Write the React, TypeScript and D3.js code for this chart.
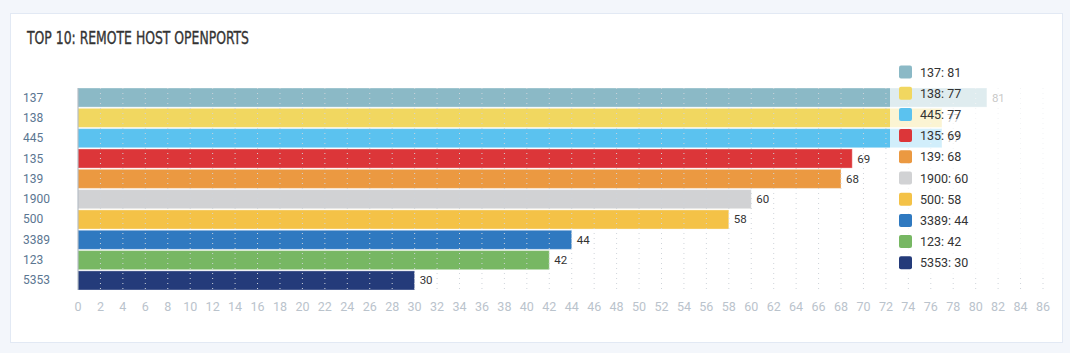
import React from 'react'
import * as d3 from 'd3'

// ports and open counts, top 10
const ports = ['137', '138', '445', '135', '139', '1900', '500', '3389', '123', '5353']
const counts = [81, 77, 77, 69, 68, 60, 58, 44, 42, 30]
const colors = ['#8bb9c6', '#f1d760', '#5bc2ef', '#dc3639', '#eb9941', '#d1d2d4', '#f4c247', '#2f79c0', '#77b763', '#243b7a']
const xTicks = d3.range(0, 87, 2)

const W = 1070
const H = 353

const App = () => {
  const x = d3.scaleLinear().domain([0, 86]).range([78, 1043])
  const y = d3.scaleBand().domain(ports).range([88, 290]).paddingInner(0.06)

  const font = 'Roboto, sans-serif'

  return (
    <div style={{ position: 'fixed', left: 0, top: 0 }}>
      <svg width={W} height={H} style={{ display: 'block' }}>
        <rect width={W} height={H} fill="#f3f6fb" />
        <rect x={10.5} y={13.5} width={1052} height={329} fill="#fff" stroke="#e2e9f4" />
        <text x={27} y={44} fontFamily="'DejaVu Sans Condensed', 'DejaVu Sans', sans-serif"
          fontSize={18.5} fill="#333" stroke="#333" strokeWidth={0.35}
          textLength={222} lengthAdjust="spacingAndGlyphs">
          TOP 10: REMOTE HOST OPENPORTS
        </text>

        {/* bars */}
        {ports.map((p, i) => (
          <rect key={p} x={x(0)} y={y(p)} width={x(counts[i]) - x(0)} height={y.bandwidth()}
            fill={colors[i]} stroke="rgba(255,255,255,0.35)" strokeWidth={1} />
        ))}

        {/* dotted grid on top */}
        {xTicks.map(t => t > 0 && (
          <line key={t} x1={x(t)} x2={x(t)} y1={88} y2={290}
            stroke="#cfd4da" strokeDasharray="1 4" />
        ))}
        <line x1={x(0)} x2={x(0)} y1={88} y2={290} stroke="#a9b2bc" />

        {/* value labels */}
        {ports.map((p, i) => (
          <text key={p} x={x(counts[i]) + 5} y={y(p)! + y.bandwidth() / 2 + 4}
            fontFamily={font} fontSize={11.5} fill="#333">{counts[i]}</text>
        ))}

        {/* y labels */}
        {ports.map(p => (
          <text key={p} x={23} y={y(p)! + y.bandwidth() / 2 + 4}
            fontFamily={font} fontSize={12} fill="#5b7691">{p}</text>
        ))}

        {/* x tick labels */}
        {xTicks.map(t => (
          <text key={t} x={x(t)} y={311} textAnchor="middle"
            fontFamily={font} fontSize={12.5} fill="#bac3cc">{t}</text>
        ))}

        {/* legend */}
        <rect x={890} y={58} width={172} height={218} fill="#fff" opacity={0.72} />
        {ports.map((p, i) => (
          <g key={p} transform={`translate(899,${72 + i * 21.2})`}>
            <rect x={0} y={-6.5} width={13} height={13} rx={2} fill={colors[i]} />
            <text x={21} y={4.5} fontFamily={font} fontSize={12.5} fill="#333">{`${p}: ${counts[i]}`}</text>
          </g>
        ))}
      </svg>
    </div>
  )
}

export default App
